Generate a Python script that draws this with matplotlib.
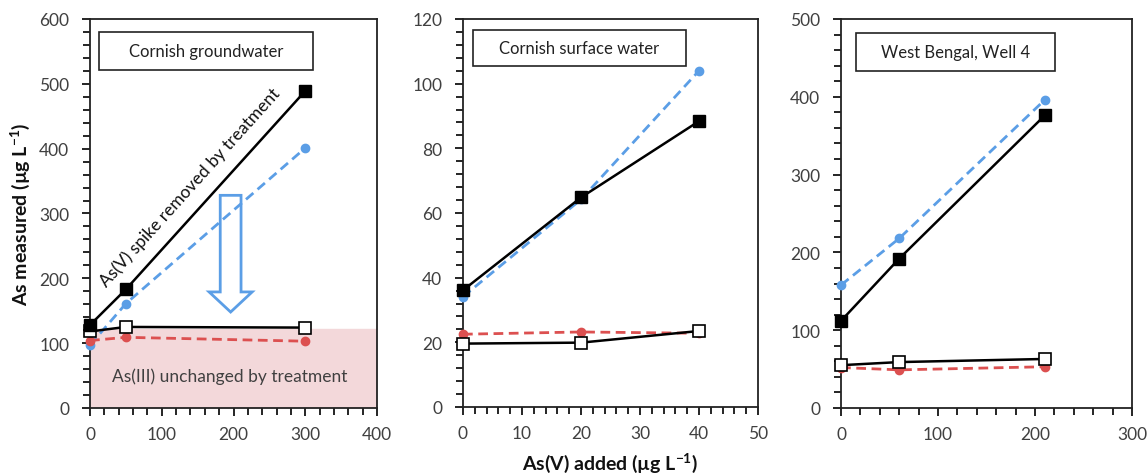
import numpy as np
import matplotlib
matplotlib.use('Agg')
import matplotlib.pyplot as plt
from matplotlib.patches import Rectangle, FancyArrow
from matplotlib.ticker import MultipleLocator

plt.rcParams['font.family'] = ['Lato', 'DejaVu Sans']
plt.rcParams['mathtext.fontset'] = 'custom'
plt.rcParams['mathtext.rm'] = 'Lato'
plt.rcParams['mathtext.bf'] = 'Lato:bold'

# ---- data ----
titles = ['Cornish groundwater', 'Cornish surface water', 'West Bengal, Well 4']

gw_x = [0, 50, 300]
gw_total_untreated = [128, 183, 489]      # black filled squares
gw_total_treated = [118, 125, 124]        # open squares
gw_blue = [97, 161, 401]                  # blue dashed circles
gw_red = [104, 109, 103]                  # red dashed circles

sw_x = [0, 20, 40]
sw_total_untreated = [36.1, 64.8, 88.4]
sw_total_treated = [19.6, 19.9, 23.5]
sw_blue = [34.1, 64.2, 104.0]
sw_red = [22.5, 23.2, 22.8]

wb_x = [0, 60, 210]
wb_total_untreated = [112, 192, 376]
wb_total_treated = [55, 59, 63]
wb_blue = [158, 218, 396]
wb_red = [52, 49, 53]

panels = [
    (gw_x, gw_total_untreated, gw_total_treated, gw_blue, gw_red),
    (sw_x, sw_total_untreated, sw_total_treated, sw_blue, sw_red),
    (wb_x, wb_total_untreated, wb_total_treated, wb_blue, wb_red),
]

xlims = [(0, 400), (0, 50), (0, 300)]
ylims = [(0, 600), (0, 120), (0, 500)]
xmajor = [100, 10, 100]
xminor = [20, 2, 20]
ymajor = [100, 20, 100]
yminor = [20, 4, 20]

as3_level = 122          # shaded As(III) band, panel 1
arrow_x, arrow_top, arrow_tip = 196, 328, 148

# ---- layout ----
axes_pos = [
    [0.0784, 0.1426, 0.2500, 0.8155],
    [0.4033, 0.1447, 0.2570, 0.8134],
    [0.7326, 0.1426, 0.2535, 0.8155],
]
box_pos = [
    (0.031, 0.869, 0.746, 0.098),
    (0.034, 0.879, 0.722, 0.093),
    (0.052, 0.866, 0.683, 0.098),
]

blue = '#5b9ee6'
red = '#dc5050'
tick_col = '#404040'

fig = plt.figure(figsize=(11.48, 4.77), dpi=100)

for i, (x, tu, tt, bl, rd) in enumerate(panels):
    ax = fig.add_axes(axes_pos[i])
    ax.set_xlim(*xlims[i])
    ax.set_ylim(*ylims[i])

    ax.plot(x, bl, color=blue, lw=2, ls=(0, (3.5, 2)), marker='o', ms=6,
            clip_on=False, zorder=3)
    ax.plot(x, rd, color=red, lw=2, ls=(0, (3.5, 2)), marker='o', ms=6,
            clip_on=False, zorder=3)
    ax.plot(x, tt, color='black', lw=1.8, marker='s', ms=8, mfc='white',
            mec='black', mew=1.2, clip_on=False, zorder=4)
    ax.plot(x, tu, color='black', lw=1.8, marker='s', ms=8, mfc='black',
            clip_on=False, zorder=4)

    ax.xaxis.set_major_locator(MultipleLocator(xmajor[i]))
    ax.xaxis.set_minor_locator(MultipleLocator(xminor[i]))
    ax.yaxis.set_major_locator(MultipleLocator(ymajor[i]))
    ax.yaxis.set_minor_locator(MultipleLocator(yminor[i]))
    ax.tick_params(which='major', direction='out', length=6, width=1.2,
                   labelsize=12.5, labelcolor=tick_col)
    ax.tick_params(which='minor', direction='out', length=5, width=1.2)
    ax.tick_params(axis='y', which='major', pad=9)
    ax.tick_params(axis='x', which='major', pad=7)
    for sp in ax.spines.values():
        sp.set_linewidth(1.3)
        sp.set_color('#222222')

    bx, by, bw, bh = box_pos[i]
    ax.add_patch(Rectangle((bx, by), bw, bh, transform=ax.transAxes,
                           fill=True, fc='white', ec='#222222', lw=1.2, zorder=5))
    ax.text(bx + bw / 2, by + bh / 2, titles[i], transform=ax.transAxes,
            ha='center', va='center', fontsize=12, color='#222222', zorder=6)

    if i == 0:
        ax.axhspan(0, as3_level, color='#f3d8da', zorder=0)
        ax.add_patch(FancyArrow(arrow_x, arrow_top, 0, arrow_tip - arrow_top,
                                width=29, head_width=60, head_length=31,
                                length_includes_head=True, fill=True, fc='white',
                                ec=blue, lw=2, zorder=2))
        ax.text(139, 342, 'As(V) spike removed by treatment', rotation=48,
                rotation_mode='anchor', ha='center', va='center',
                fontsize=12.5, color='#111111', zorder=6)
        ax.text(195, 49, 'As(III) unchanged by treatment', ha='center',
                va='center', fontsize=12.5, color='#404040', zorder=6)
        ax.set_ylabel(r'As measured (µg L$^{\mathbf{-1}}$)', fontsize=14,
                      fontweight='bold', color='#111111', labelpad=5)

fig.text(0.5317, 0.03, r'As(V) added (µg L$^{\mathbf{-1}}$)', ha='center',
         va='center', fontsize=14, fontweight='bold', color='#111111')

fig.savefig('out.png', dpi=100)
